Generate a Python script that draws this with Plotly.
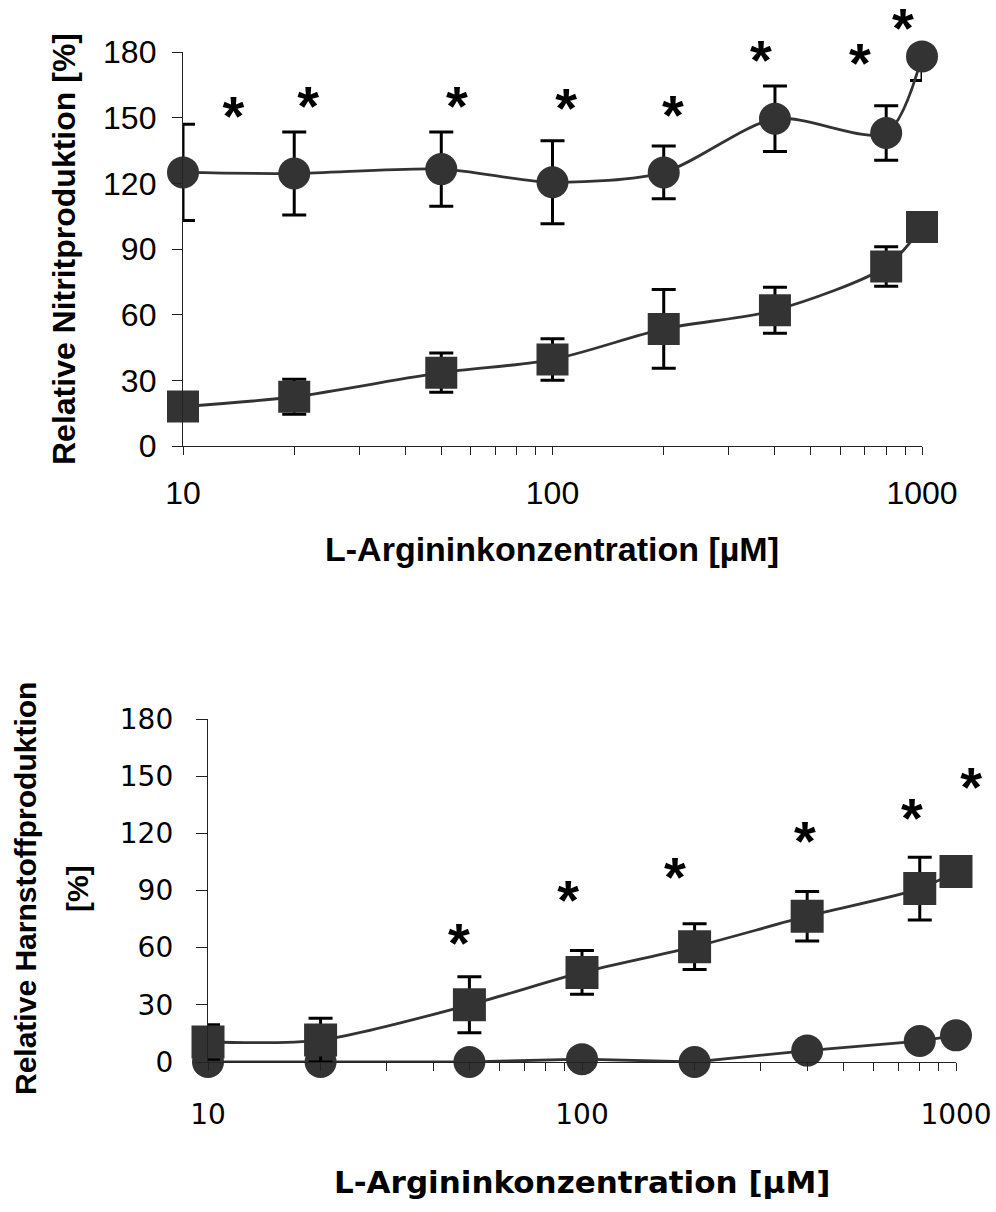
import numpy as np
import plotly.graph_objects as go

# ---------------- data ----------------
conc = [10, 20, 50, 100, 200, 400, 800, 1000]

# top panel: relative nitrite production [%]
nit_circle = [125, 124.5, 126.5, 120.5, 125, 149.5, 143, 178]
nit_circle_err = [22, 19, 17, 19, 12, 15, 12.5, 11]
nit_square = [18, 22.5, 33.5, 39.5, 53.5, 62, 82, 100]
nit_square_err = [0, 8, 9, 9.5, 18, 10.5, 9, 0]
nit_star_x = [13.7, 21.8, 55.1, 108.8, 211.9, 366.7, 679, 888]
nit_star_y = [154.4, 159, 159, 158, 155, 180, 178.6, 194.6]

# bottom panel: relative urea production [%]
urea_square = [10.5, 11.5, 30, 47, 60.5, 76.5, 91, 100]
urea_square_err = [9, 11.5, 14.7, 11.5, 12, 13, 16.5, 0]
urea_circle = [0, 0, 0, 1.5, 0, 6, 11, 14]
urea_circle_err = [0, 0, 0, 0, 0, 0, 3, 0]
urea_star_x = [46.9, 91.8, 177.3, 394.6, 762.8, 1097]
urea_star_y = [66.6, 89.2, 101.3, 120.2, 132.2, 148.5]

y_ticks = [0, 30, 60, 90, 120, 150, 180]
x_tickvals = [10, 20, 30, 40, 50, 60, 70, 80, 90,
              100, 200, 300, 400, 500, 600, 700, 800, 900, 1000]
x_ticktext = ["10"] + [""] * 8 + ["100"] + [""] * 8 + ["1000"]

# ---------------- styles ----------------
W, H = 996, 1212
MARK = "#333333"
ARIAL = "Liberation Sans, Arial, sans-serif"
WIDE = "DejaVu Sans, Verdana, sans-serif"

# plot-area pixel boxes (left, right, bottom, top)
TOP = (183, 922, 446, 52)
BOT = (208, 956, 1062, 719)
STAR_DROP = 13          # vertical offset of the star glyphs, px
Y_EXT_TOP = 200         # extended y range for star layer of top panel
X_EXT_BOT = 3.1         # extended log-x range for star layer of bottom panel


def px_x(p):
    return p / W


def px_y(p):
    return 1 - p / H


fig = go.Figure()


def series(x, y, err, symbol, size, xa, ya, line_shape="spline"):
    fig.add_trace(go.Scatter(
        x=x, y=y, mode="lines+markers", xaxis=xa, yaxis=ya,
        line=dict(color=MARK, width=2.8, shape=line_shape, smoothing=0.8),
        marker=dict(symbol=symbol, size=size, color=MARK, line=dict(width=0)),
        error_y=dict(type="data", array=err, visible=True, color="black",
                     thickness=3, width=12),
        cliponaxis=False, showlegend=False, hoverinfo="skip",
    ))


def stars(x, y, xa, ya):
    fig.add_trace(go.Scatter(
        x=x, y=y, mode="text", xaxis=xa, yaxis=ya,
        text=["*"] * len(x), textposition="middle center",
        textfont=dict(family=ARIAL, size=56, color="black", weight="bold"),
        cliponaxis=False, showlegend=False, hoverinfo="skip",
    ))


# top panel
series(conc, nit_circle, nit_circle_err, "circle", 32, "x", "y")
series(conc, nit_square, nit_square_err, "square", 32, "x", "y")
stars(nit_star_x, nit_star_y, "x3", "y3")
# bottom panel
series(conc, urea_circle, urea_circle_err, "circle", 32, "x2", "y2", "linear")
series(conc, urea_square, urea_square_err, "square", 33, "x2", "y2")
stars(urea_star_x, urea_star_y, "x4", "y4")

# axis titles as annotations
annotations = [
    dict(x=px_x(552), y=px_y(549), xref="paper", yref="paper",
         text="<b>L-Argininkonzentration [µM]</b>", showarrow=False,
         font=dict(family=ARIAL, size=34, color="black"), xanchor="center", yanchor="middle"),
    dict(x=px_x(582), y=px_y(1182), xref="paper", yref="paper",
         text="<b>L-Argininkonzentration [µM]</b>", showarrow=False,
         font=dict(family=WIDE, size=31, color="black"), xanchor="center", yanchor="middle"),
    dict(x=px_x(64), y=px_y(249), xref="paper", yref="paper",
         text="<b>Relative Nitritproduktion [%]</b>", showarrow=False, textangle=-90,
         font=dict(family=ARIAL, size=32, color="black"), xanchor="center", yanchor="middle"),
    dict(x=px_x(25), y=px_y(889), xref="paper", yref="paper",
         text="<b>Relative Harnstoffproduktion</b>", showarrow=False, textangle=-90,
         font=dict(family=ARIAL, size=30, color="black"), xanchor="center", yanchor="middle"),
    dict(x=px_x(77), y=px_y(889), xref="paper", yref="paper",
         text="<b>[%]</b>", showarrow=False, textangle=-90,
         font=dict(family=ARIAL, size=30, color="black"), xanchor="center", yanchor="middle"),
]

axis_common = dict(showgrid=False, zeroline=False, showline=True, linecolor="#222222",
                   linewidth=1.3, ticks="outside", tickcolor="#222222", tickwidth=1.3,
                   automargin=False)
hidden = dict(visible=False, showgrid=False, zeroline=False, automargin=False, fixedrange=True)

# star layers: same pixel scale as the panels, ranges extended so that no star is dropped
top_px_per_unit = (TOP[2] - TOP[3]) / 180
top_star_dom = [px_y(TOP[2] + STAR_DROP),
                px_y(TOP[2] + STAR_DROP - Y_EXT_TOP * top_px_per_unit)]
bot_px_per_dec = (BOT[1] - BOT[0]) / 2
bot_star_xdom = [px_x(BOT[0]), px_x(BOT[0] + (X_EXT_BOT - 1) * bot_px_per_dec)]
bot_star_ydom = [px_y(BOT[2] + STAR_DROP), px_y(BOT[3] + STAR_DROP)]

fig.update_layout(
    template="none",
    width=W, height=H, margin=dict(l=0, r=0, t=0, b=0, autoexpand=False),
    paper_bgcolor="white", plot_bgcolor="rgba(0,0,0,0)",
    showlegend=False, annotations=annotations,
    xaxis=dict(type="log", range=[1, 3], domain=[px_x(TOP[0]), px_x(TOP[1])], anchor="y",
               tickvals=x_tickvals, ticktext=x_ticktext, ticklen=8,
               tickfont=dict(family=ARIAL, size=32, color="black"),
               ticklabelstandoff=10, **axis_common),
    yaxis=dict(range=[0, 180], domain=[px_y(TOP[2]), px_y(TOP[3])], anchor="x",
               tickvals=y_ticks, ticklen=10,
               tickfont=dict(family=ARIAL, size=32, color="black"),
               ticklabelstandoff=9, **axis_common),
    xaxis2=dict(type="log", range=[1, 3], domain=[px_x(BOT[0]), px_x(BOT[1])], anchor="y2",
                tickvals=x_tickvals, ticktext=x_ticktext, ticklen=8,
                tickfont=dict(family=WIDE, size=28, color="black"),
                ticklabelstandoff=19, **axis_common),
    yaxis2=dict(range=[0, 180], domain=[px_y(BOT[2]), px_y(BOT[3])], anchor="x2",
                tickvals=y_ticks, ticklen=11,
                tickfont=dict(family=WIDE, size=28, color="black"),
                ticklabelstandoff=17, **axis_common),
    xaxis3=dict(type="log", range=[1, 3], domain=[px_x(TOP[0]), px_x(TOP[1])],
                anchor="y3", **hidden),
    yaxis3=dict(range=[0, Y_EXT_TOP], domain=top_star_dom, anchor="x3", **hidden),
    xaxis4=dict(type="log", range=[1, X_EXT_BOT], domain=bot_star_xdom,
                anchor="y4", **hidden),
    yaxis4=dict(range=[0, 180], domain=bot_star_ydom, anchor="x4", **hidden),
)

fig.write_html("out.html")
